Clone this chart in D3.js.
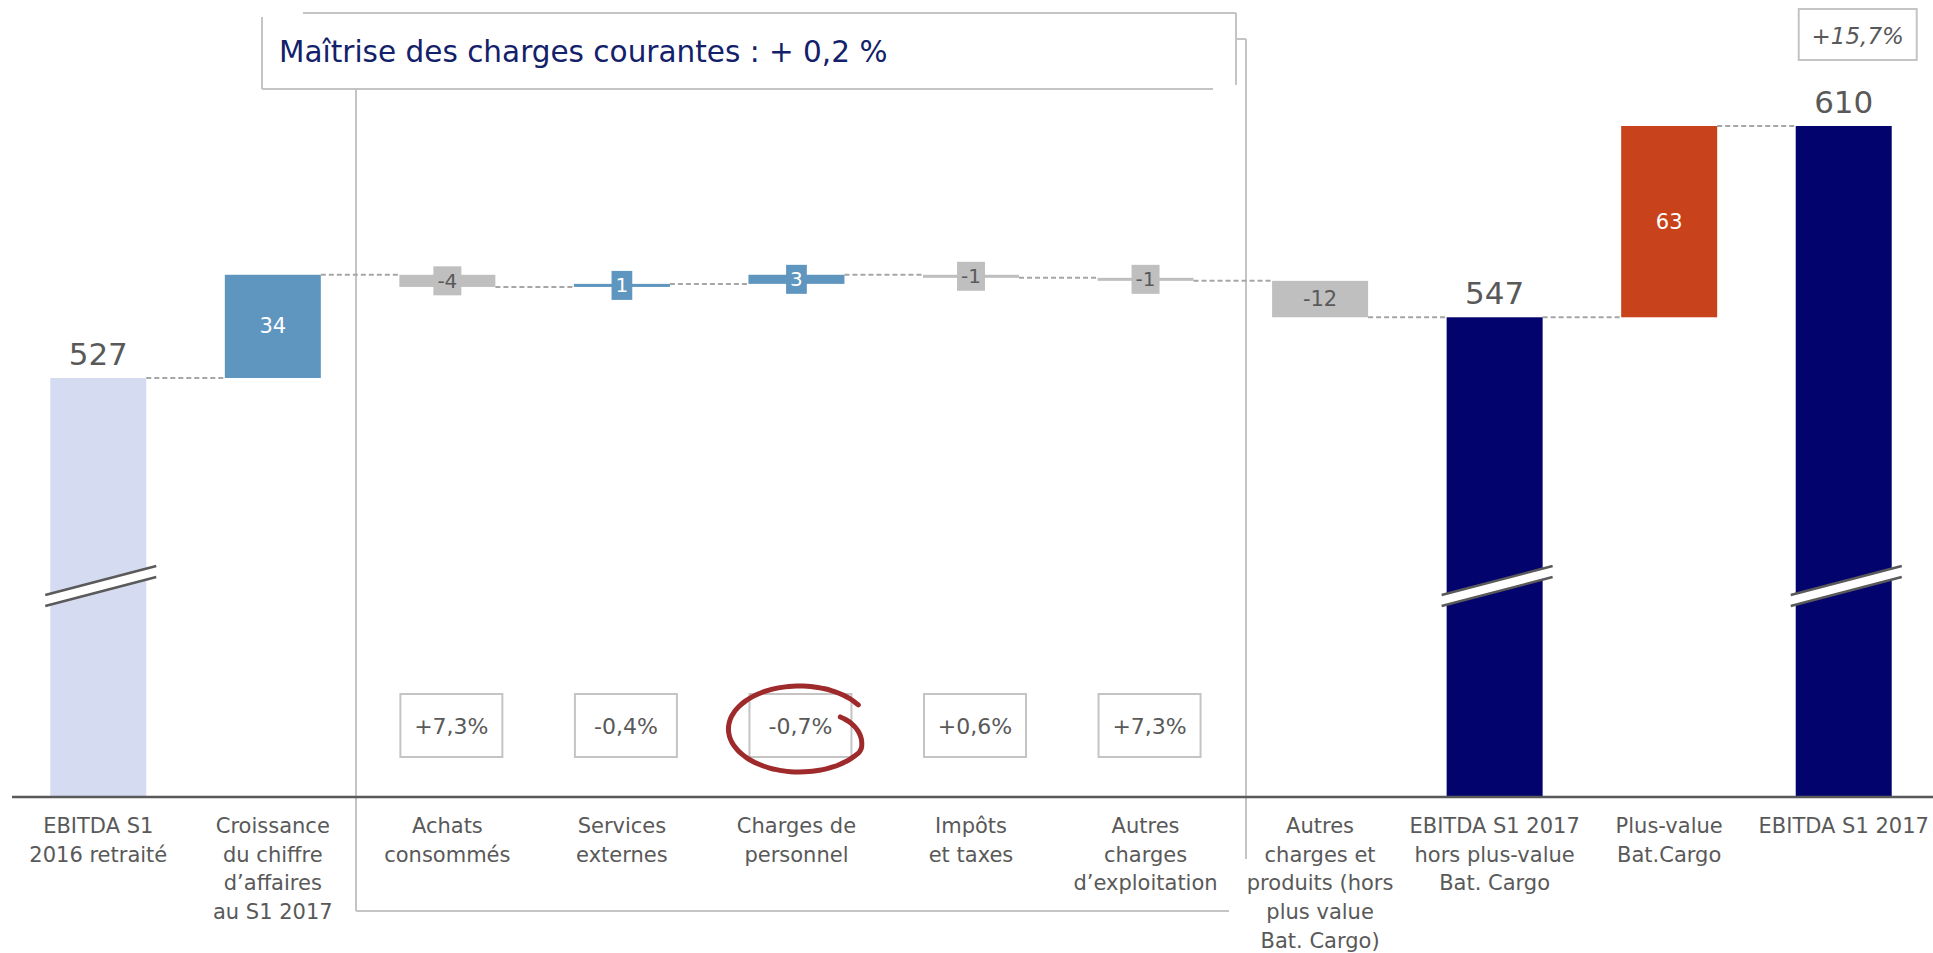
<!DOCTYPE html>
<html><head><meta charset="utf-8">
<script src="https://cdn.jsdelivr.net/npm/d3@7/dist/d3.min.js"></script>
<style>
body{margin:0;background:#fff;}
svg{display:block;}
text{font-family:"DejaVu Sans",sans-serif;}
</style>
</head><body>
<svg id="chart" width="1933" height="953"></svg>
<script>
// ---------- DATA ----------
const categories = [
  ["EBITDA S1","2016 retraité"],
  ["Croissance","du chiffre","d’affaires","au S1 2017"],
  ["Achats","consommés"],
  ["Services","externes"],
  ["Charges de","personnel"],
  ["Impôts","et taxes"],
  ["Autres","charges","d’exploitation"],
  ["Autres","charges et","produits (hors","plus value","Bat. Cargo)"],
  ["EBITDA S1 2017","hors plus-value","Bat. Cargo"],
  ["Plus-value","Bat.Cargo"],
  ["EBITDA S1 2017"]
];
const values = [527, 34, -4, 1, 3, -1, -1, -12, 547, 63, 610];
const kinds  = ["start","up","down","up","up","down","down","down","total","gain","total"];
const variationIndex  = [2, 3, 4, 5, 6];
const variationLabels = ["+7,3%", "-0,4%", "-0,7%", "+0,6%", "+7,3%"];
const circledIndex = 4;
const growthLabel = "+15,7%";
const growthIndex = 10;
const titleText = "Maîtrise des charges courantes : + 0,2 %";
const brokenBars = [0, 8, 10];
const axisBaseValue = 389;   // value at the (broken) axis line
const axisTopValue  = 651.5;

// ---------- STYLE / LAYOUT ----------
const W = 1933, H = 953;
const axisY = 797;
const colors = {start:"#d5dbf0", up:"#5f96bf", down:"#bfbfbf", total:"#03036e", gain:"#c8421b"};
const textGray = "#595959";
const boxGray = "#c4c4c4";

const svg = d3.select("#chart");
svg.append("rect").attr("width", W).attr("height", H).attr("fill", "#fff");

const x = d3.scalePoint().domain(d3.range(values.length)).range([11, 1931]).padding(0.5);
const barW = x.step() * 0.55;
const y = d3.scaleLinear().domain([axisBaseValue, axisTopValue]).range([axisY, 0]);

// waterfall geometry
let running = 0;
const bars = values.map((v, i) => {
  const k = kinds[i];
  let lo, hi, end;
  if (k === "start" || k === "total") { lo = axisBaseValue; hi = v; end = v; }
  else { const s = running; end = s + v; lo = Math.min(s, end); hi = Math.max(s, end); }
  running = end;
  return {i, v, k, lo, hi, end};
});

// ---------- title box & bracket ----------
const g0 = svg.append("g").attr("stroke", boxGray).attr("stroke-width", 2).attr("fill", "none");
const lines = [
  [303, 13, 1236, 13], [262, 17, 262, 89], [1236, 13, 1236, 85], [262, 89, 1213, 89],
  [356, 89, 356, 911], [356, 911, 1229, 911], [1236, 39, 1246, 39], [1246, 39, 1246, 859]
];
lines.forEach(l => g0.append("line").attr("x1", l[0]).attr("y1", l[1]).attr("x2", l[2]).attr("y2", l[3]));

svg.append("text").attr("x", 279).attr("y", 62)
  .attr("font-size", 29.5).attr("fill", "#13216a").text(titleText);

// ---------- connectors ----------
bars.slice(0, -1).forEach((b, idx) => {
  const yy = y(b.end);
  svg.append("line")
    .attr("x1", x(idx) + barW / 2).attr("x2", x(idx + 1) - barW / 2)
    .attr("y1", yy).attr("y2", yy)
    .attr("stroke", "#a6a6a6").attr("stroke-width", 2).attr("stroke-dasharray", "5,3");
});

// ---------- bars ----------
svg.append("g").selectAll("rect").data(bars).join("rect")
  .attr("x", d => x(d.i) - barW / 2)
  .attr("width", barW)
  .attr("y", d => y(d.hi))
  .attr("height", d => y(d.lo) - y(d.hi))
  .attr("fill", d => colors[d.k]);

// ---------- break marks ----------
brokenBars.forEach(i => {
  const cx = x(i), xl = cx - 53, xr = cx + 58, yl = 595, yr = 566, gap = 11;
  svg.append("path")
    .attr("d", `M${xl},${yl}L${xr},${yr}L${xr},${yr + gap}L${xl},${yl + gap}Z`)
    .attr("fill", "#fff");
  [0, gap].forEach(o => svg.append("line")
    .attr("x1", xl).attr("y1", yl + o).attr("x2", xr).attr("y2", yr + o)
    .attr("stroke", "#5a5a5a").attr("stroke-width", 2.5));
});

// ---------- axis ----------
const xAxis = d3.axisBottom(x).tickSize(0).tickFormat("");
const axG = svg.append("g").attr("transform", `translate(0,${axisY})`).call(xAxis);
axG.select(".domain").attr("d", `M12,0H${W}`).attr("stroke", "#595959").attr("stroke-width", 2.5);

// ---------- category labels ----------
bars.forEach(b => {
  const t = svg.append("text").attr("text-anchor", "middle").attr("font-size", 21)
    .attr("fill", textGray);
  categories[b.i].forEach((line, j) => {
    t.append("tspan").attr("x", x(b.i)).attr("y", 833 + j * 28.7).text(line);
  });
});

// ---------- value labels ----------
bars.forEach(b => {
  const cx = x(b.i);
  if (b.k === "start" || b.k === "total") {
    svg.append("text").attr("x", cx).attr("y", y(b.hi) - 13).attr("text-anchor", "middle")
      .attr("font-size", 31).attr("fill", textGray).text(b.v);
  } else {
    const cy = (y(b.lo) + y(b.hi)) / 2;
    const txtColor = (b.k === "down") ? textGray : "#fff";
    const label = String(b.v);
    if (Math.abs(b.v) >= 10) {
      svg.append("text").attr("x", cx).attr("y", cy).attr("text-anchor", "middle")
        .attr("dominant-baseline", "central").attr("font-size", 21).attr("fill", txtColor).text(label);
    } else {
      const t = svg.append("text").attr("x", cx).attr("y", cy).attr("text-anchor", "middle")
        .attr("dominant-baseline", "central").attr("font-size", 20).attr("fill", txtColor).text(label);
      const w = t.node().getComputedTextLength() + 8;
      svg.insert("rect", () => t.node())
        .attr("x", cx - w / 2).attr("y", cy - 14.5).attr("width", w).attr("height", 29)
        .attr("fill", colors[b.k]);
    }
  }
});

// ---------- variation boxes ----------
variationIndex.forEach((i, j) => {
  const cx = x(i) + 4;
  svg.append("rect").attr("x", cx - 51).attr("y", 694).attr("width", 102).attr("height", 63)
    .attr("fill", "#fff").attr("stroke", boxGray).attr("stroke-width", 2);
  svg.append("text").attr("x", cx).attr("y", 726).attr("text-anchor", "middle")
    .attr("dominant-baseline", "central").attr("font-size", 22).attr("fill", textGray)
    .text(variationLabels[j]);
});

// hand-drawn circle around the highlighted variation
{
  const cx = x(circledIndex) + 3, cy = 729, rx = 71, ry = 43;
  const pts = d3.range(0, 1.0001, 1 / 60).map(t => {
    const a = (-34 - t * 352) * Math.PI / 180;
    const r = t < 0.84 ? 1 : 1 - (t - 0.84) / 0.16 * 0.36;
    return [cx + rx * r * Math.cos(a), cy + ry * r * Math.sin(a)];
  });
  svg.append("path").attr("d", d3.line().curve(d3.curveCatmullRom)(pts))
    .attr("fill", "none").attr("stroke", "#9e2a2b").attr("stroke-width", 5)
    .attr("stroke-linecap", "round");
}

// growth box
{
  const cx = x(growthIndex) + 14;
  svg.append("rect").attr("x", cx - 59).attr("y", 9).attr("width", 118).attr("height", 51)
    .attr("fill", "#fff").attr("stroke", boxGray).attr("stroke-width", 2);
  svg.append("text").attr("x", cx).attr("y", 36).attr("text-anchor", "middle")
    .attr("dominant-baseline", "central").attr("font-size", 23).attr("font-style", "italic")
    .attr("fill", textGray).text(growthLabel);
}
</script>
</body></html>
